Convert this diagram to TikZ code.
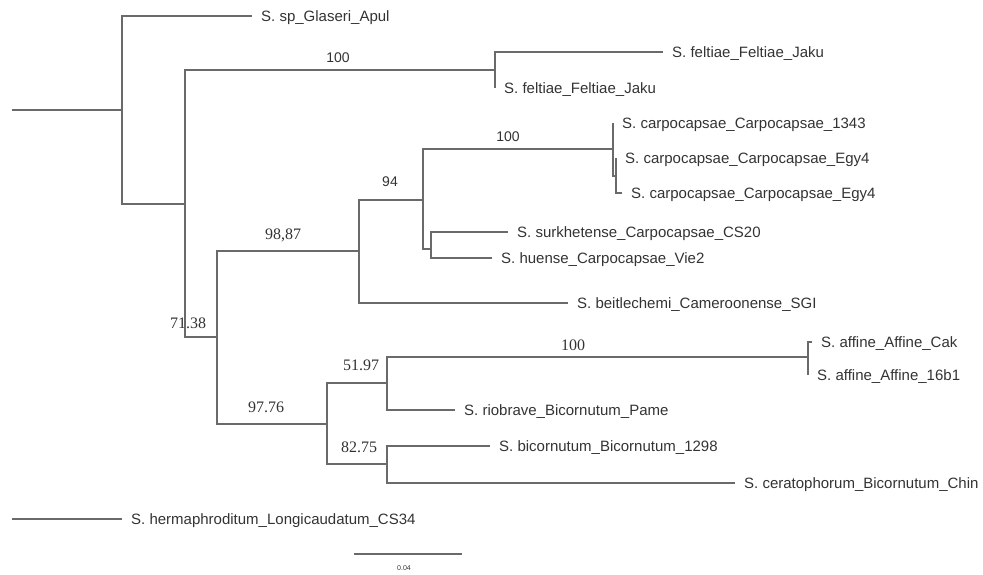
\documentclass[tikz,border=0pt]{standalone}
\usepackage{fontspec}
\usepackage{tikz}
\newfontfamily\tipfont{Liberation Sans}
\newfontfamily\bsfont{Liberation Serif}
\definecolor{branchgray}{HTML}{6A6A6A}
\definecolor{textgray}{HTML}{333333}
\tikzset{
	leaf/.style={anchor=west, inner xsep=9pt, inner ysep=0pt, text height=11pt, text depth=0pt, text=textgray, font=\tipfont\fontsize{15}{18}\selectfont},
	bootsans/.style={inner sep=0pt, text=textgray, font=\tipfont\fontsize{14}{16}\selectfont},
	bootserif/.style={inner sep=0pt, text=textgray, font=\bsfont\fontsize{16}{18}\selectfont},
	branch/.style={draw=branchgray, line width=1.3pt}
}
\begin{document}
\begin{tikzpicture}[x=1pt, y=-1pt]
	\useasboundingbox (0,0) rectangle (983,574);
	
	\coordinate (start) at (12, 110);
	\coordinate (root)  at (122, 110);
	\coordinate (nA)    at (185, 204);
	\coordinate (nFel)  at (495, 70);
	\coordinate (nB)    at (217, 337);
	\coordinate (n98)   at (359, 251);
	\coordinate (n94)   at (423, 200);
	\coordinate (nCarp) at (613, 149);
	\coordinate (nEgy)  at (616, 176);
	\coordinate (nSurk) at (431, 249);
	\coordinate (n97)   at (327, 424);
	\coordinate (n51)   at (387, 383);
	\coordinate (nAff)  at (808, 357);
	\coordinate (n82)   at (387, 464);
	\coordinate (hstart) at (12, 519);
	\coordinate (sbl)   at (354, 554);
	\coordinate (sbr)   at (462, 554);
	
	\node[leaf] (glaseri) at (252, 16)  {S. sp\_Glaseri\_Apul};
	\node[leaf] (fel1)    at (663, 52)  {S. feltiae\_Feltiae\_Jaku};
	\node[leaf] (fel2)    at (495, 88)  {S. feltiae\_Feltiae\_Jaku};
	\node[leaf] (carp1)   at (613, 123) {S. carpocapsae\_Carpocapsae\_1343};
	\node[leaf] (egy1)    at (616, 158) {S. carpocapsae\_Carpocapsae\_Egy4};
	\node[leaf] (egy2)    at (622, 193) {S. carpocapsae\_Carpocapsae\_Egy4};
	\node[leaf] (surk)    at (508, 232) {S. surkhetense\_Carpocapsae\_CS20};
	\node[leaf] (huen)    at (492, 258) {S. huense\_Carpocapsae\_Vie2};
	\node[leaf] (beit)    at (568, 303) {S. beitlechemi\_Cameroonense\_SGI};
	\node[leaf] (aff1)    at (812, 342) {S. affine\_Affine\_Cak};
	\node[leaf] (aff2)    at (808, 375) {S. affine\_Affine\_16b1};
	\node[leaf] (riob)    at (455, 410) {S. riobrave\_Bicornutum\_Pame};
	\node[leaf] (bico)    at (490, 446) {S. bicornutum\_Bicornutum\_1298};
	\node[leaf] (cera)    at (735, 483) {S. ceratophorum\_Bicornutum\_Chin};
	\node[leaf] (herm)    at (122, 519) {S. hermaphroditum\_Longicaudatum\_CS34};
	
	\node[bootsans]  (bFel)  at (338, 58)  {100};
	\node[bootsans]  (bCarp) at (508, 137) {100};
	\node[bootsans]  (b94)   at (390, 182) {94};
	\node[bootserif] (b98)   at (283, 235) {98,87};
	\node[bootserif] (b71)   at (188, 323) {71.38};
	\node[bootserif] (bAff)  at (573, 345) {100};
	\node[bootserif] (b51)   at (361, 365) {51.97};
	\node[bootserif] (b97)   at (266, 407) {97.76};
	\node[bootserif] (b82)   at (359, 447) {82.75};
	\node[inner sep=0pt, text=textgray, font=\tipfont\fontsize{7}{8}\selectfont] (sblab) at (404, 568) {0.04};
	
	\path[branch] (start) -- (root);
	\path[branch] (root) |- (glaseri.west);
	\path[branch] (root) |- (nA);
	\path[branch] (nA) |- (nFel);
	\path[branch] (nFel) |- (fel1.west);
	\path[branch] (nFel) |- (fel2.west);
	\path[branch] (nA) |- (nB);
	\path[branch] (nB) |- (n98);
	\path[branch] (nB) |- (n97);
	\path[branch] (n98) |- (n94);
	\path[branch] (n98) |- (beit.west);
	\path[branch] (n94) |- (nCarp);
	\path[branch] (n94) |- (nSurk);
	\path[branch] (nCarp) |- (carp1.west);
	\path[branch] (nCarp) |- (nEgy);
	\path[branch] (nEgy) |- (egy1.west);
	\path[branch] (nEgy) |- (egy2.west);
	\path[branch] (nSurk) |- (surk.west);
	\path[branch] (nSurk) |- (huen.west);
	\path[branch] (n97) |- (n51);
	\path[branch] (n97) |- (n82);
	\path[branch] (n51) |- (nAff);
	\path[branch] (n51) |- (riob.west);
	\path[branch] (nAff) |- (aff1.west);
	\path[branch] (nAff) |- (aff2.west);
	\path[branch] (n82) |- (bico.west);
	\path[branch] (n82) |- (cera.west);
	\path[branch] (hstart) -- (herm.west);
	\path[branch] (sbl) -- (sbr);
	
\end{tikzpicture}
\end{document}
